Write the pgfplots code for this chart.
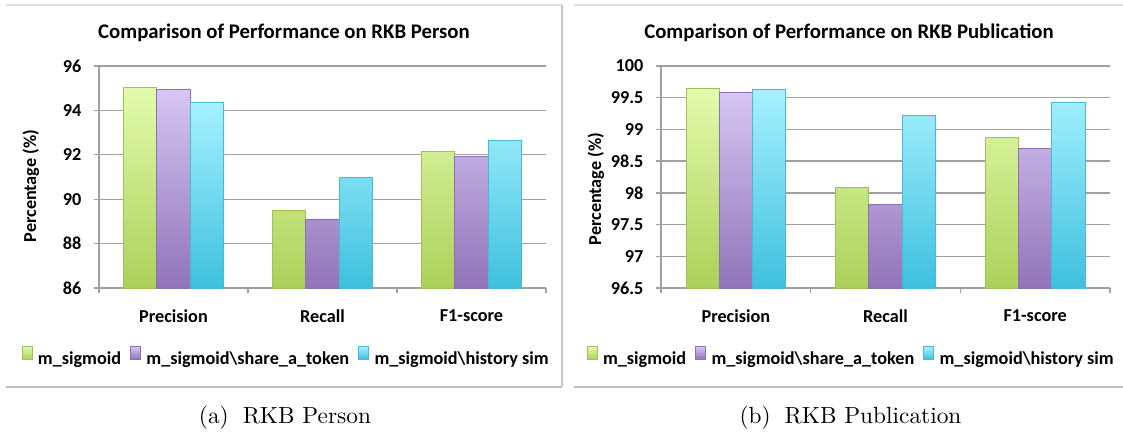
\documentclass[border=0pt]{standalone}
\usepackage{fontspec}
\usepackage{pgfplots}
\pgfplotsset{compat=1.18}
\newfontfamily\calfont{Carlito}
\newcommand{\cf}{\calfont\bfseries\fontsize{8.2}{9.8}\selectfont}
\newcommand{\tf}{\calfont\bfseries\fontsize{9.35}{11}\selectfont}
\definecolor{gTop}{RGB}{226,251,172}
\definecolor{gBot}{RGB}{172,208,90}
\definecolor{gBrd}{RGB}{155,195,85}
\definecolor{pTop}{RGB}{214,198,242}
\definecolor{pBot}{RGB}{145,116,185}
\definecolor{pBrd}{RGB}{140,114,180}
\definecolor{cTop}{RGB}{166,241,255}
\definecolor{cBot}{RGB}{62,192,222}
\definecolor{cBrd}{RGB}{70,184,216}
\definecolor{gridc}{RGB}{160,160,160}
\definecolor{boxtop}{RGB}{222,222,222}
\definecolor{boxside}{RGB}{200,200,200}
\definecolor{boxbot}{RGB}{190,190,190}

\pgfplotstableread{
x  a      b      c
0  95.02  94.95  94.38
1  89.51  89.11  90.98
2  92.17  91.93  92.64
}\person
\pgfplotstableread{
x  a      b      c
0  99.65  99.59  99.63
1  98.09  97.82  99.22
2  98.87  98.70  99.43
}\publication

\pgfplotsset{
  rkb/.style={
    scale only axis, height=99.9pt, anchor=south west,
    ybar=0pt, bar width=14.94pt,
    xmin=-0.5, xmax=2.5,
    xtick={0,1,2}, xticklabels={Precision,Recall,F1-score},
    minor xtick={-0.5,0.5,1.5,2.5},
    major x tick style={draw=none},
    tick align=outside,
    axis x line*=bottom, axis y line*=left,
    major tick length=2.4pt, minor tick length=2.4pt,
    tick style={draw=gridc, line width=0.6pt},
    axis line style={draw=gridc, line width=0.6pt, -},
    ymajorgrids, grid style={draw=gridc, line width=0.6pt},
    ticklabel style={font=\cf, text=black},
    yticklabel style={xshift=-2pt},
    xticklabel style={yshift=-4pt},
    /pgf/number format/assume math mode=true,
    legend columns=3,
    legend image code/.code={\draw[##1, line width=0.3pt] (0pt,0pt) rectangle (4.4pt,5.8pt);},
    legend style={draw=none, fill=none, font=\cf, anchor=center,
      inner xsep=0pt, inner ysep=0pt,
      nodes={inner xsep=2.6pt, inner ysep=1pt},
      /tikz/every even column/.append style={column sep=1.5pt}},
    clip=true,
  },
  serA/.style={draw=gBrd, top color=gTop, bottom color=gBot, line width=0.4pt},
  serB/.style={draw=pBrd, top color=pTop, bottom color=pBot, line width=0.4pt},
  serC/.style={draw=cBrd, top color=cTop, bottom color=cBot, line width=0.4pt},
}

\begin{document}
\begin{tikzpicture}
\path[use as bounding box] (0,0) rectangle (505.35pt,195.75pt);

\begin{scope}[x=0.45pt, y=-0.45pt, shift={(0,195.75pt)}]
  \draw[boxtop, line width=0.7pt] (6,5) -- (562,5);
  \draw[boxside, line width=0.8pt] (562,5) -- (562,387);
  \draw[boxbot, line width=0.8pt] (6,387) -- (562,387);
  \draw[boxtop, line width=0.7pt] (574,5) -- (1123,5);
  \draw[boxbot, line width=0.8pt] (574,387) -- (1123,387);
  \node[font=\tf] at (284,33) {Comparison of Performance on RKB Person};
  \node[font=\tf] at (849,33) {Comparison of Performance on RKB Publication};
  \node[font=\cf, rotate=90] at (31,186) {Percentage (\%)};
  \node[font=\cf, rotate=90] at (596,189) {Percentage (\%)};
  \node[anchor=base, font=\fontsize{10.5}{12}\selectfont, inner sep=0pt] at (285,423) {(a)\hspace{6.3pt}RKB Person};
  \node[anchor=base, font=\fontsize{10.5}{12}\selectfont, inner sep=0pt] at (850.5,423) {(b)\hspace{6.3pt}RKB Publication};
\end{scope}

\begin{axis}[rkb, at={(44.55pt,66.15pt)}, width=201.15pt,
  y coord trafo/.code={\pgfmathparse{#1-86}},
  y coord inv trafo/.code={\pgfmathparse{#1+86}},
  ymin=86, ymax=96, ytick={86,88,90,92,94,96},
  yticklabels={86,88,90,92,94,96},
  legend style={at={(0.423,-0.315)}}]
\addplot[serA] table[x=x,y=a] {\person};
\addplot[serB] table[x=x,y=b] {\person};
\addplot[serC] table[x=x,y=c] {\person};
\legend{m\_sigmoid, m\_sigmoid\textbackslash share\_a\_token, m\_sigmoid\textbackslash history sim}
\end{axis}

\begin{axis}[rkb, at={(297.45pt,66.15pt)}, width=202.05pt,
  y coord trafo/.code={\pgfmathparse{#1-96.5}},
  y coord inv trafo/.code={\pgfmathparse{#1+96.5}},
  ymin=96.5, ymax=100, ytick={96.5,97,97.5,98,98.5,99,99.5,100},
  yticklabels={96.5,97,97.5,98,98.5,99,99.5,100},
  legend style={at={(0.428,-0.315)}}]
\addplot[serA] table[x=x,y=a] {\publication};
\addplot[serB] table[x=x,y=b] {\publication};
\addplot[serC] table[x=x,y=c] {\publication};
\legend{m\_sigmoid, m\_sigmoid\textbackslash share\_a\_token, m\_sigmoid\textbackslash history sim}
\end{axis}
\end{tikzpicture}
\end{document}
